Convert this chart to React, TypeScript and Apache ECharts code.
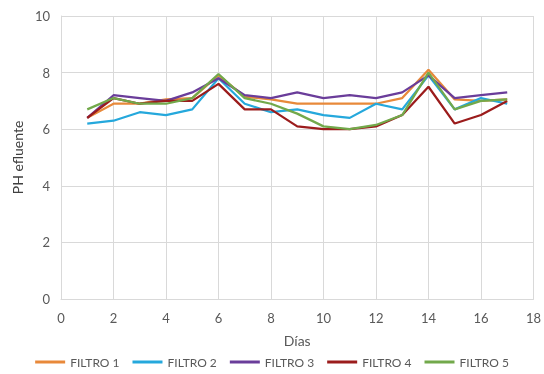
import React, { useEffect, useRef } from "react";
import * as echarts from "echarts";

const days = [1, 2, 3, 4, 5, 6, 7, 8, 9, 10, 11, 12, 13, 14, 15, 16, 17];
const filtro1 = [6.4, 6.9, 6.9, 7.05, 7.1, 7.9, 7.15, 7.05, 6.9, 6.9, 6.9, 6.9, 7.1, 8.1, 7.05, 7.0, 7.05];
const filtro2 = [6.2, 6.3, 6.6, 6.5, 6.7, 7.8, 6.9, 6.6, 6.7, 6.5, 6.4, 6.9, 6.7, 7.9, 6.7, 7.1, 6.9];
const filtro3 = [6.4, 7.2, 7.1, 7.0, 7.3, 7.8, 7.2, 7.1, 7.3, 7.1, 7.2, 7.1, 7.3, 7.9, 7.1, 7.2, 7.3];
const filtro4 = [6.4, 7.1, 6.9, 7.0, 7.0, 7.6, 6.7, 6.7, 6.1, 6.0, 6.0, 6.1, 6.5, 7.5, 6.2, 6.5, 7.0];
const filtro5 = [6.7, 7.1, 6.9, 6.9, 7.1, 7.95, 7.1, 6.9, 6.55, 6.1, 6.0, 6.15, 6.5, 8.0, 6.7, 7.0, 7.05];

const seriesNames = ["FILTRO 1", "FILTRO 2", "FILTRO 3", "FILTRO 4", "FILTRO 5"];
const seriesValues = [filtro1, filtro2, filtro3, filtro4, filtro5];
const colors = ["#E8893A", "#25A8DC", "#6A3D9A", "#9B1C1C", "#72A94B"];

export default function App() {
  const ref = useRef<HTMLDivElement>(null);
  useEffect(() => {
    if (!ref.current) return;
    const chart = echarts.init(ref.current, null, { renderer: "svg" });
    const font = "Lato";
    chart.setOption({
      animation: false,
      color: colors,
      textStyle: { fontFamily: font },
      grid: { left: 61, right: 6, top: 16, bottom: 75, containLabel: false },
      xAxis: {
        type: "value",
        min: 0,
        max: 18,
        interval: 2,
        name: "Días",
        nameLocation: "middle",
        nameGap: 34,
        nameTextStyle: { color: "#595959", fontSize: 14, fontFamily: font },
        axisLine: { show: true, lineStyle: { color: "#D9D9D9" } },
        axisTick: { show: false },
        axisLabel: { color: "#595959", fontSize: 13, fontFamily: font, margin: 12 },
        splitLine: { show: true, lineStyle: { color: "#D9D9D9" } },
      },
      yAxis: {
        type: "value",
        min: 0,
        max: 10,
        interval: 2,
        name: "PH efluente",
        nameLocation: "middle",
        nameGap: 35,
        nameTextStyle: { color: "#404040", fontSize: 14, fontFamily: font },
        axisLine: { show: true, lineStyle: { color: "#D9D9D9" } },
        axisTick: { show: false },
        axisLabel: { color: "#595959", fontSize: 13, fontFamily: font, margin: 11 },
        splitLine: { show: true, lineStyle: { color: "#D9D9D9" } },
      },
      legend: {
        bottom: 1,
        left: "center",
        icon: "rect",
        itemWidth: 30,
        itemHeight: 3,
        itemGap: 13,
        textStyle: { color: "#595959", fontSize: 12, fontFamily: font },
        data: seriesNames,
      },
      series: seriesNames.map((name, i) => ({
        name,
        type: "line",
        symbol: "none",
        lineStyle: { width: 2.25, color: colors[i] },
        itemStyle: { color: colors[i] },
        data: days.map((d, j) => [d, seriesValues[i][j]]),
      })),
    });
    return () => chart.dispose();
  }, []);
  return (
    <div
      ref={ref}
      style={{ position: "fixed", left: 0, top: 0, width: 544, height: 374 }}
    />
  );
}
